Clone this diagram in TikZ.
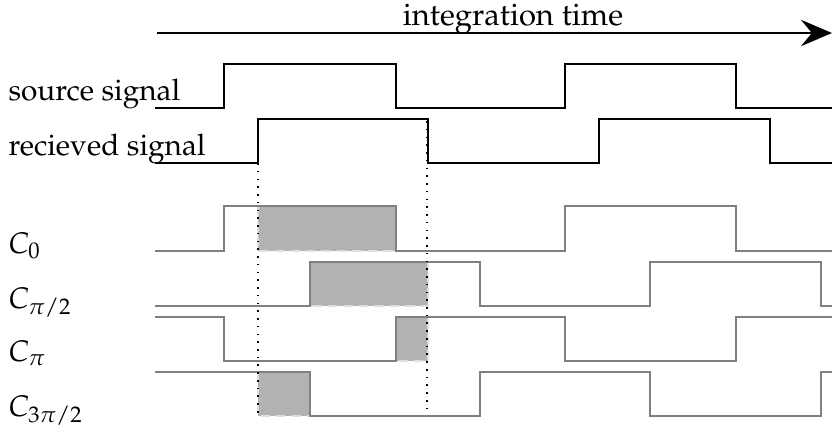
\documentclass[tikz,border=0pt]{standalone}
\usepackage[T1]{fontenc}
\usepackage{mathpazo}
\usetikzlibrary{arrows.meta}

\begin{document}
\begin{tikzpicture}[
  x=0.3226pt, y=-0.3226pt,
  lbl/.style={anchor=base west, inner sep=0pt, font=\fontsize{9.6}{11}\selectfont},
  sig/.style={line width=0.7pt, black},
  ref/.style={line width=0.7pt, gray},
  win/.style={fill=gray!60, draw=gray!25, densely dashed, line width=0.4pt},
  gate/.style={dotted, line width=0.5pt, black},
  arr/.style={-{Stealth[length=10pt, width=8.5pt, inset=3.5pt]}, line width=0.7pt}
]
\useasboundingbox (0,0) rectangle (832,428);

% -------------------------
% INTEGRATION TIME
% -------------------------
\coordinate (tstart) at (157,33);
\coordinate (tend) at (832,33);
\draw[arr] (tstart) -- (tend);
\node[anchor=base, inner sep=0pt] (tlbl) at (513,25) {integration time};

% -------------------------
% SOURCE AND RECEIVED SIGNAL
% -------------------------
\node[lbl] (srclbl) at (8,100) {source signal};
\node[lbl] (rcvlbl) at (8,155) {recieved signal};

\draw[sig] (155,108) -| (224,64) -| (396,108) -| (565,64) -| (736,108) -- (832,108);
\draw[sig] (155,163) -| (258,119) -| (428,163) -| (599,119) -| (770,163) -- (832,163);

% -------------------------
% CORRELATION WINDOWS
% -------------------------
\draw[win] (258,206) rectangle (396,251);
\draw[win] (310,262) rectangle (428,306);
\draw[win] (396,317) rectangle (428,361);
\draw[win] (258,372) rectangle (310,416);

% reference signals
\node[lbl] (c0lbl) at (8,253) {$C_0$};
\node[lbl] (c1lbl) at (8,308) {$C_{\pi/2}$};
\node[lbl] (c2lbl) at (8,361) {$C_\pi$};
\node[lbl] (c3lbl) at (8,416) {$C_{3\pi/2}$};

\draw[ref] (155,251) -| (224,206) -| (396,251) -| (565,206) -| (736,251) -- (832,251);
\draw[ref] (155,306) -| (310,262) -| (480,306) -| (650,262) -| (821,306) -- (832,306);
\draw[ref] (155,317) -| (224,361) -| (396,317) -| (565,361) -| (736,317) -- (832,317);
\draw[ref] (155,372) -| (310,416) -| (480,372) -| (650,416) -| (821,372) -- (832,372);

% pulse edges of the received signal
\draw[gate] (258,163) -- (258,413);
\draw[gate] (427,121) -- (427,413);

\end{tikzpicture}
\end{document}
